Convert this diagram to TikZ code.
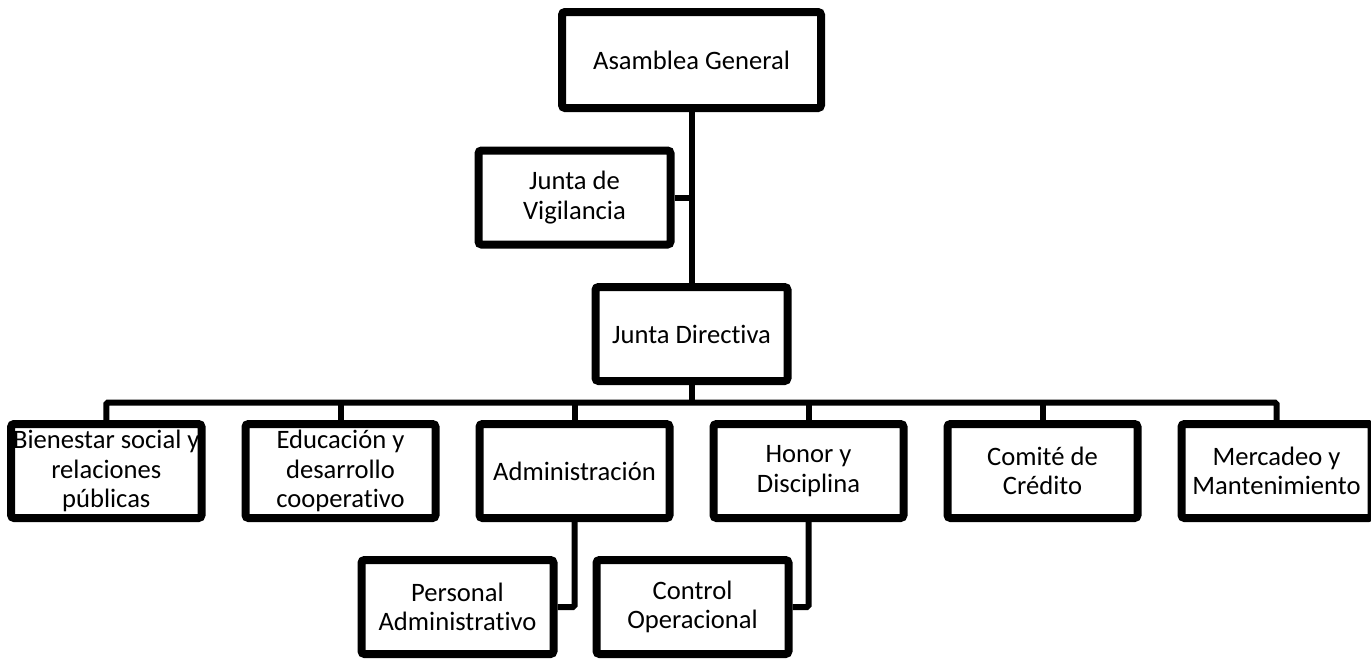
\documentclass[tikz,border=0pt]{standalone}
\usepackage{fontspec}
\setmainfont{Carlito}[Ligatures={NoCommon}]
\usepackage{tikz}
\usetikzlibrary{
    positioning,
    calc,
    shadows
}

\begin{document}
\begin{tikzpicture}[
    node distance=18pt,
%
    box/.style={
        draw=black,
        line width=4pt,
        rounded corners=1.5pt,
        fill=white,
        minimum width=95pt,
        minimum height=47pt,
        inner sep=1pt,
        align=center,
        font=\fontsize{13.3}{14.8}\selectfont,
        drop shadow={
            shadow xshift=1pt,
            shadow yshift=-1.6pt,
            opacity=0.25
        }
    },
%
    link/.style={
        line width=3pt,
        color=black,
        rounded corners=0.8pt
    }
]
\useasboundingbox (0,0) rectangle (685.5pt,-330pt);
%
% Top: assembly, oversight board and board of directors on one vertical line.
%
\node[
    box,
    minimum width=129.5pt,
    minimum height=48pt
] (asam) at (345.75pt,-30pt) {Asamblea General};
\node[
    box,
    minimum width=96pt,
    below=85.5pt of asam
] (dir) {Junta Directiva};
\node[
    box,
    minimum width=96pt,
    left=8.5pt of $(asam.south)!0.5!(dir.north)$
] (vig) {
    Junta de\\
    Vigilancia
};
\draw[link] (asam.south) -- (dir.north);
\draw[link] (vig.east) -- (vig.east -| asam.south);
%
% Committees under the board.
%
\node[
    box,
    below=17.5pt of dir,
    xshift=-58.5pt
] (adm) {Administración};
\node[
    box,
    left=of adm
] (edu) {
    Educación y\\
    desarrollo\\
    cooperativo
};
\node[
    box,
    left=of edu
] (bien) {
    Bienestar social y\\
    relaciones\\
    públicas
};
\node[
    box,
    right=of adm
] (hon) {
    Honor y\\
    Disciplina
};
\node[
    box,
    right=of hon
] (com) {
    Comité de\\
    Crédito
};
\node[
    box,
    right=of com
] (mer) {
    Mercadeo y\\
    Mantenimiento
};
\coordinate (bus) at ($(dir.south)!0.5!(dir.south |- adm.north)$);
\draw[link] (dir.south) -- (bus);
\draw[link] (bien.north) |- (bus) -| (mer.north);
\foreach \n in {edu, adm, hon, com}
    \draw[link] (bus -| \n.north) -- (\n.north);
%
% Units under administration and discipline.
%
\node[
    box,
    minimum width=96pt,
    below=17pt of adm,
    xshift=-58.5pt
] (per) {
    Personal\\
    Administrativo
};
\node[
    box,
    minimum width=96pt,
    below=17pt of hon,
    xshift=-58pt
] (ctrl) {
    Control\\
    Operacional
};
\draw[link] (adm.south) |- (per.east);
\draw[link] (hon.south) |- (ctrl.east);
%
\end{tikzpicture}
\end{document}
